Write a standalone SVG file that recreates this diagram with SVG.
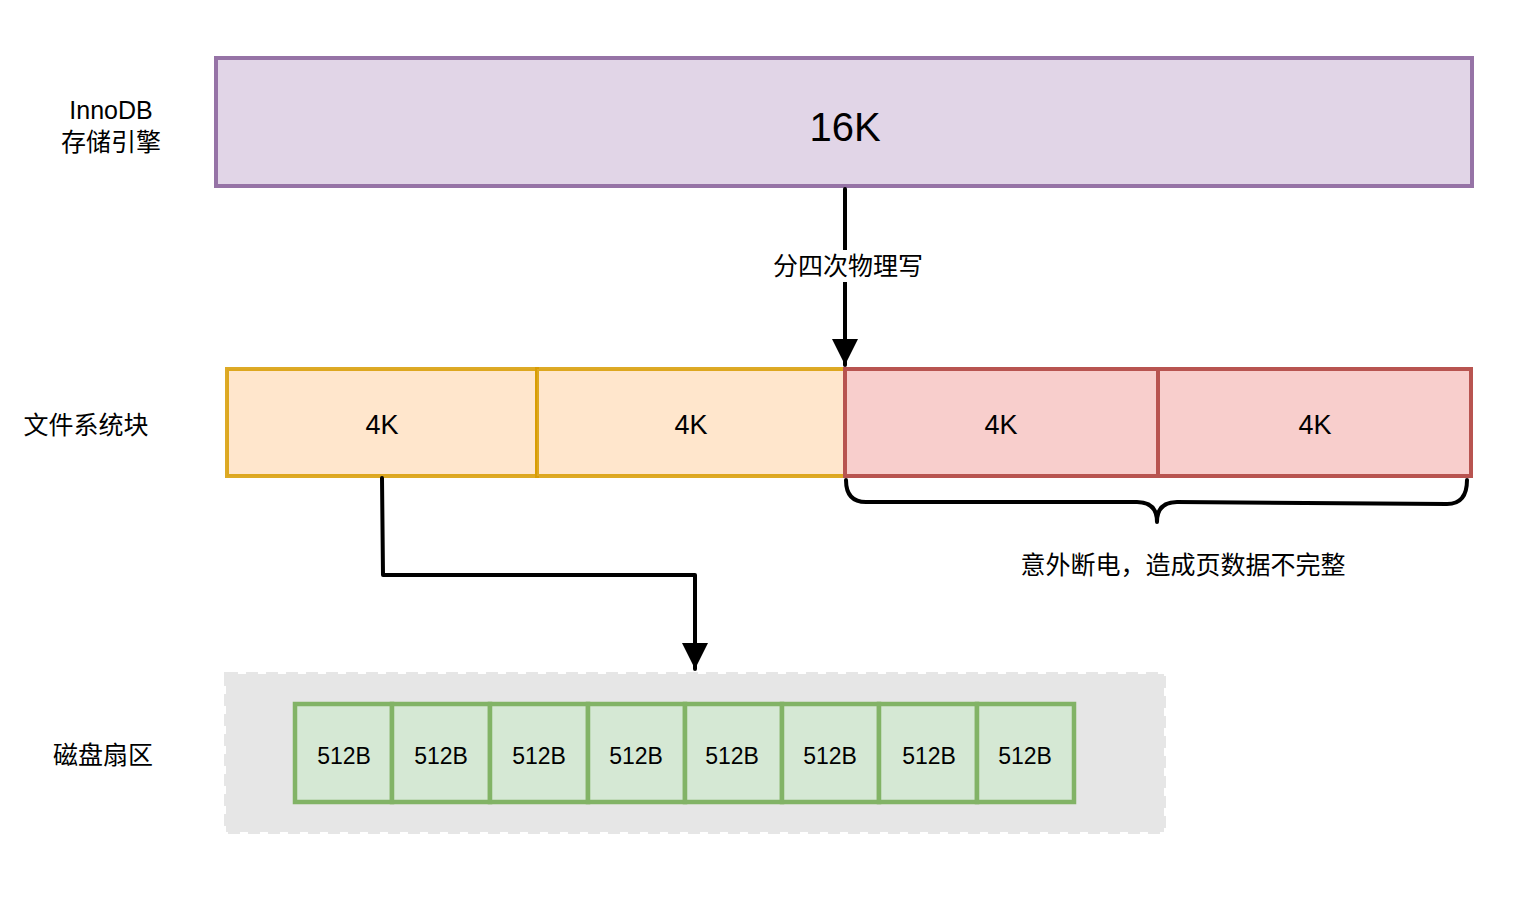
<svg xmlns="http://www.w3.org/2000/svg" width="1522" height="904" viewBox="0 0 1522 904">
<style>
text{font-family:"Liberation Sans","Noto Sans CJK SC",sans-serif;fill:#000;text-anchor:middle;dominant-baseline:central}
.lbl{font-size:25px}
.en{font-size:25px}
.purple{fill:#e1d5e7;stroke:#9673a6;stroke-width:4}
.orange{fill:#ffe6cc;stroke:#d79b00;stroke-width:4;stroke-opacity:.85}
.red{fill:#f8cecc;stroke:#b85450;stroke-width:4}
.green{fill:#d5e8d4;stroke:#82b366;stroke-width:4.5}
.k{font-size:27px}
.b{font-size:23px}
.wire{fill:none;stroke:#000;stroke-width:4;stroke-linejoin:round;stroke-linecap:round}
</style>
<defs>
<marker id="ah" viewBox="0 0 10 10" refX="10" refY="5" markerWidth="27" markerHeight="26" markerUnits="userSpaceOnUse" orient="auto">
<path d="M0,0 L10,5 L0,10 Z" fill="#000"/>
</marker>
</defs>
<rect width="1522" height="904" fill="#fff"/>

<g id="label-innodb">
<text class="en" x="111" y="110">InnoDB</text>
<text class="lbl" x="111" y="142">存储引擎</text>
</g>
<g id="label-fs"><text class="lbl" x="86" y="425">文件系统块</text></g>
<g id="label-disk"><text class="lbl" x="103" y="755">磁盘扇区</text></g>

<g id="page16k">
<rect class="purple" x="216" y="58" width="1256" height="128"/>
<text x="845" y="127" font-size="40">16K</text>
</g>

<g id="fs1"><rect class="orange" x="227" y="369" width="310" height="107"/><text class="k" x="382" y="425">4K</text></g>
<g id="fs2"><rect class="orange" x="537" y="369" width="308" height="107"/><text class="k" x="691" y="425">4K</text></g>
<g id="fs3"><rect class="red" x="845" y="369" width="313" height="107"/><text class="k" x="1001" y="425">4K</text></g>
<g id="fs4"><rect class="red" x="1158" y="369" width="313" height="107"/><text class="k" x="1315" y="425">4K</text></g>

<g id="disk-area">
<rect x="226" y="674" width="938" height="158" fill="#e6e6e6" stroke="#e6e6e6" stroke-width="4" stroke-dasharray="12 8"/>
</g>

<g id="s1"><rect class="green" x="295" y="704" width="97" height="98"/><text class="b" x="344" y="756">512B</text></g>
<g id="s2"><rect class="green" x="392" y="704" width="98" height="98"/><text class="b" x="441" y="756">512B</text></g>
<g id="s3"><rect class="green" x="490" y="704" width="98" height="98"/><text class="b" x="539" y="756">512B</text></g>
<g id="s4"><rect class="green" x="588" y="704" width="97" height="98"/><text class="b" x="636" y="756">512B</text></g>
<g id="s5"><rect class="green" x="685" y="704" width="97" height="98"/><text class="b" x="732" y="756">512B</text></g>
<g id="s6"><rect class="green" x="782" y="704" width="97" height="98"/><text class="b" x="830" y="756">512B</text></g>
<g id="s7"><rect class="green" x="879" y="704" width="98" height="98"/><text class="b" x="929" y="756">512B</text></g>
<g id="s8"><rect class="green" x="977" y="704" width="97" height="98"/><text class="b" x="1025" y="756">512B</text></g>

<g id="connectors">
<path class="wire" d="M845,189 L845,365" marker-end="url(#ah)"/>
<rect x="768" y="250" width="160" height="32" fill="#fff"/>
<text class="lbl" x="848" y="266">分四次物理写</text>
<path class="wire" d="M382,478 L383,575 L695,575 L695,669" marker-end="url(#ah)"/>
<path class="wire" d="M846,480 Q846,502 866,502 L1137,502 Q1157,502 1157,522 Q1157,502 1177,502 L1447,504 Q1467,504 1467,480"/>
<text class="lbl" x="1183" y="565">意外断电，造成页数据不完整</text>
</g>
</svg>
